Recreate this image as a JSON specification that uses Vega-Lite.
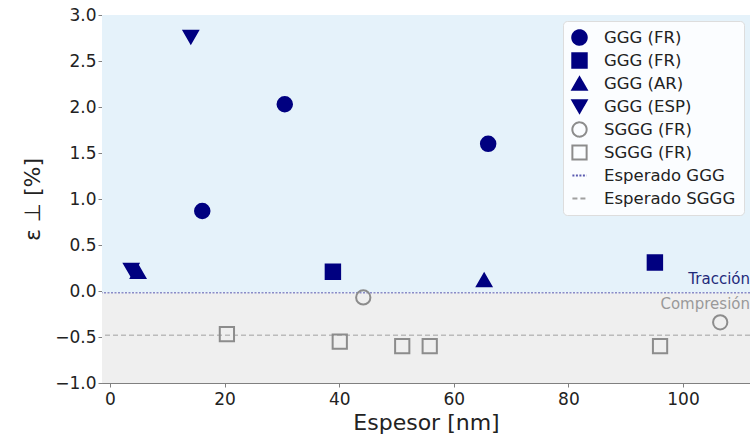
{
  "$schema": "https://vega.github.io/schema/vega-lite/v6.json",
  "width": 648,
  "height": 368,
  "autosize": "none",
  "padding": {"left": 102, "top": 15, "right": 0, "bottom": 61},
  "background": "white",
  "config": {
    "font": "DejaVu Sans",
    "view": {"stroke": "#808080", "strokeWidth": 1},
    "axis": {"grid": false, "domainColor": "#808080", "tickColor": "#808080", "labelColor": "#222", "titleColor": "#222", "labelFontSize": 17, "titleFontSize": 22, "titleFontWeight": "normal", "tickSize": 4},
    "legend": {"orient": "top-right", "offset": 6, "fillColor": "rgba(255,255,255,0.85)", "strokeColor": "#dddddd", "cornerRadius": 4, "padding": 8, "labelFontSize": 16.5, "labelColor": "#222", "rowPadding": 0, "symbolStrokeWidth": 2, "labelOffset": 16, "gridAlign": "all"}
  },
  "datasets": {
    "bg": [
      {"y0": -0.02, "y1": 3.0, "zona": "t"},
      {"y0": -1.0, "y1": -0.02, "zona": "c"}
    ],
    "pts": [
      {"x": 16.1, "y": 0.87, "s": "GGG (FR)"},
      {"x": 30.5, "y": 2.03, "s": "GGG (FR)"},
      {"x": 66.0, "y": 1.60, "s": "GGG (FR)"},
      {"x": 38.9, "y": 0.21, "s": "GGG (FR) "},
      {"x": 95.1, "y": 0.31, "s": "GGG (FR) "},
      {"x": 4.9, "y": 0.21, "s": "GGG (AR)"},
      {"x": 65.3, "y": 0.12, "s": "GGG (AR)"},
      {"x": 14.1, "y": 2.76, "s": "GGG (ESP)"},
      {"x": 3.7, "y": 0.23, "s": "GGG (ESP)"},
      {"x": 44.2, "y": -0.07, "s": "SGGG (FR)"},
      {"x": 106.5, "y": -0.34, "s": "SGGG (FR)"},
      {"x": 20.4, "y": -0.47, "s": "SGGG (FR) "},
      {"x": 40.1, "y": -0.55, "s": "SGGG (FR) "},
      {"x": 51.0, "y": -0.60, "s": "SGGG (FR) "},
      {"x": 55.8, "y": -0.60, "s": "SGGG (FR) "},
      {"x": 96.0, "y": -0.60, "s": "SGGG (FR) "}
    ],
    "lines": [
      {"y": -0.02, "s": "Esperado GGG"},
      {"y": -0.48, "s": "Esperado SGGG"}
    ],
    "labels": [
      {"x": 111.7, "y": 0.08, "t": "Tracción", "c": "t"},
      {"x": 111.7, "y": -0.2, "t": "Compresión", "c": "c"}
    ]
  },
  "layer": [
    {
      "data": {"name": "bg"},
      "mark": {"type": "rect"},
      "encoding": {
        "y": {"field": "y0", "type": "quantitative", "scale": {"domain": [-1, 3], "nice": false}},
        "y2": {"field": "y1"},
        "fill": {"condition": {"test": "datum.zona == 't'", "value": "#e5f2fa"}, "value": "#efefef"}
      }
    },
    {
      "data": {"name": "lines"},
      "mark": {"type": "rule", "strokeWidth": 1},
      "encoding": {
        "y": {"field": "y", "type": "quantitative"},
        "stroke": {"field": "s", "type": "nominal"},
        "strokeDash": {"field": "s", "type": "nominal",
          "scale": {"domain": ["GGG (FR)", "GGG (FR) ", "GGG (AR)", "GGG (ESP)", "SGGG (FR)", "SGGG (FR) ", "Esperado GGG", "Esperado SGGG"],
            "range": [[1, 0], [1, 0], [1, 0], [1, 0], [1, 0], [1, 0], [2, 1.5], [5, 3]]}}
      }
    },
    {
      "data": {"name": "pts"},
      "mark": {"type": "point", "strokeWidth": 2, "opacity": 1},
      "encoding": {
        "x": {"field": "x", "type": "quantitative", "scale": {"domain": [-1.4, 111.7], "nice": false, "zero": false},
          "axis": {"values": [0, 20, 40, 60, 80, 100], "title": "Espesor [nm]", "titlePadding": 5, "labelPadding": 4}},
        "y": {"field": "y", "type": "quantitative", "scale": {"domain": [-1, 3], "nice": false},
          "axis": {"values": [-1, -0.5, 0, 0.5, 1, 1.5, 2, 2.5, 3], "labelExpr": "replace(format(datum.value, '.1f'), '-', '−')", "title": "ε ⊥ [%]", "titlePadding": 10}},
        "shape": {"field": "s", "type": "nominal",
          "scale": {"domain": ["GGG (FR)", "GGG (FR) ", "GGG (AR)", "GGG (ESP)", "SGGG (FR)", "SGGG (FR) ", "Esperado GGG", "Esperado SGGG"],
            "range": ["circle", "square", "triangle-up", "triangle-down", "circle", "square", "stroke", "stroke"]},
          "legend": {"title": null}},
        "stroke": {"field": "s", "type": "nominal",
          "scale": {"domain": ["GGG (FR)", "GGG (FR) ", "GGG (AR)", "GGG (ESP)", "SGGG (FR)", "SGGG (FR) ", "Esperado GGG", "Esperado SGGG"],
            "range": ["#000080", "#000080", "#000080", "#000080", "#8c8c8c", "#8c8c8c", "#5a5ab0", "#a0a0a0"]},
          "legend": {"title": null}},
        "fill": {"field": "s", "type": "nominal",
          "scale": {"domain": ["GGG (FR)", "GGG (FR) ", "GGG (AR)", "GGG (ESP)", "SGGG (FR)", "SGGG (FR) ", "Esperado GGG", "Esperado SGGG"],
            "range": ["#000080", "#000080", "#000080", "#000080", "transparent", "transparent", "transparent", "transparent"]},
          "legend": {"title": null}},
        "size": {"field": "s", "type": "nominal",
          "scale": {"domain": ["GGG (FR)", "GGG (FR) ", "GGG (AR)", "GGG (ESP)", "SGGG (FR)", "SGGG (FR) ", "Esperado GGG", "Esperado SGGG"],
            "range": [210, 200, 230, 230, 190, 190, 300, 300]},
          "legend": {"title": null}}
      }
    },
    {
      "data": {"name": "labels"},
      "mark": {"type": "text", "align": "right", "baseline": "alphabetic", "fontSize": 15},
      "encoding": {
        "x": {"field": "x", "type": "quantitative"},
        "y": {"field": "y", "type": "quantitative"},
        "text": {"field": "t"},
        "fill": {"condition": {"test": "datum.c == 't'", "value": "#1f2a7a"}, "value": "#999999"}
      }
    }
  ]
}
